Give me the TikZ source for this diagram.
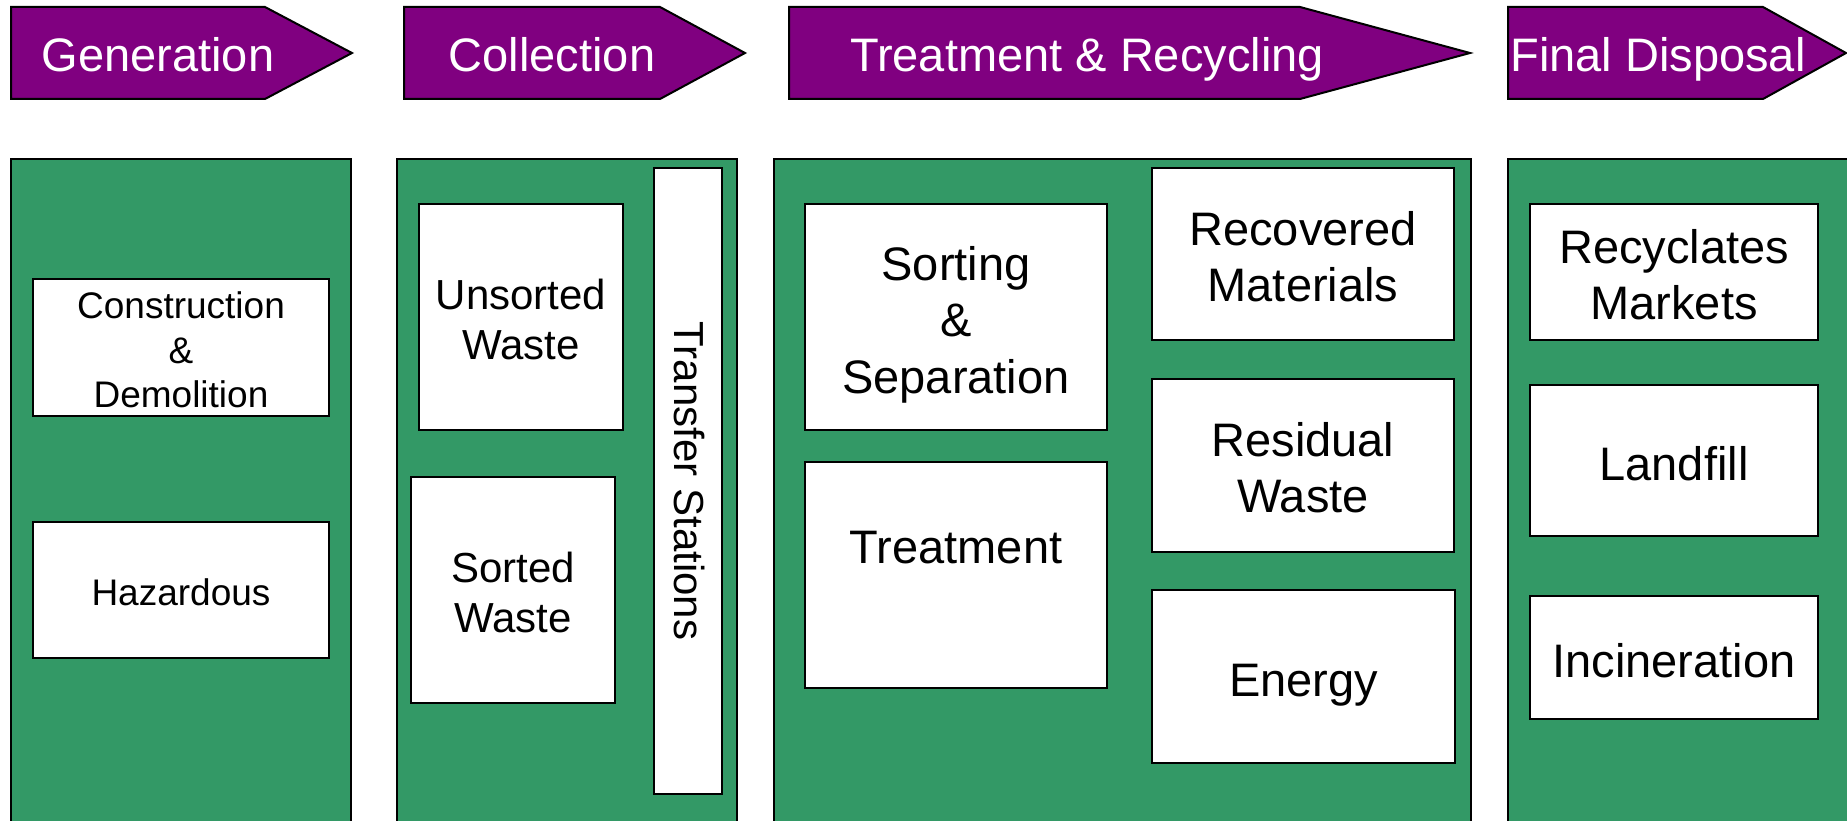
\documentclass[tikz,border=0pt]{standalone}
\usepackage{fontspec}
\setmainfont{Liberation Sans}
\definecolor{hpurple}{RGB}{128,0,128}
\definecolor{pgreen}{RGB}{51,153,102}
\newcommand{\PPa}{\rule{0pt}{1.05em}}
\newcommand{\PPb}{\rule[-0.212em]{0pt}{0pt}}
\tikzset{
  hdr/.style={fill=hpurple,draw=black,line width=2pt,line join=miter},
  hdrtext/.style={text=white,anchor=base,inner sep=0pt,font=\fontsize{47}{56}\selectfont},
  panel/.style={fill=pgreen,draw=black,line width=2pt},
  wbox/.style={draw=black,fill=white,line width=2pt,inner sep=0pt,align=center},
  big/.style={font=\fontsize{47}{56.4}\selectfont},
  mid/.style={font=\fontsize{42}{50.4}\selectfont},
  small/.style={font=\fontsize{37}{44.4}\selectfont},
}
\begin{document}
\begin{tikzpicture}[x=1pt,y=-1pt]
\useasboundingbox (0,0) rectangle (1847,821);
\clip (0,0) rectangle (1847,821);
\fill[white] (0,0) rectangle (1847,821);
% header arrows
\draw[hdr] (11,7) -- (265,7) -- (352,53) -- (265,99) -- (11,99) -- cycle;
\draw[hdr] (404,7) -- (660,7) -- (745,53) -- (660,99) -- (404,99) -- cycle;
\draw[hdr] (789,7) -- (1300,7) -- (1470,53) -- (1300,99) -- (789,99) -- cycle;
\draw[hdr] (1508,7) -- (1763,7) -- (1846,53) -- (1763,99) -- (1508,99) -- cycle;
\node[hdrtext] (hgen) at (158,72) {Generation};
\node[hdrtext] (hcol) at (552,72) {Collection};
\node[hdrtext] (htr) at (1087,72) {Treatment \& Recycling};
\node[hdrtext] (hfin) at (1658,72) {Final Disposal};
% panels
\draw[panel] (11,159) rectangle (351,840);
\draw[panel] (397,159) rectangle (737,840);
\draw[panel] (774,159) rectangle (1471,840);
\draw[panel] (1508,159) rectangle (1870,840);
% generation
\node[wbox,small,minimum width=296pt,minimum height=137pt] (cd) at (181,347.5) {\PPa Construction\\\&\\Demolition\PPb};
\node[wbox,small,minimum width=296pt,minimum height=136pt] (haz) at (181,590) {\PPa Hazardous\PPb};
% collection
\node[wbox,mid,minimum width=204pt,minimum height=226pt] (uns) at (521,317) {\PPa Unsorted\\Waste\PPb};
\node[wbox,mid,minimum width=204pt,minimum height=226pt] (sor) at (513,590) {\PPa Sorted\\Waste\PPb};
\node[wbox,minimum width=68pt,minimum height=626pt] (ts) at (688,481) {};
\node[mid,rotate=-90,inner sep=0pt] (tst) at (690,481) {Transfer Stations};
% treatment
\node[wbox,big,minimum width=302pt,minimum height=226pt] (ss) at (956,317) {\PPa Sorting\\\&\\Separation\PPb};
\node[wbox,minimum width=302pt,minimum height=226pt] (tr) at (956,575) {};
\node[big,inner sep=0pt] (trt) at (956,548) {Treatment};
\node[wbox,big,minimum width=302pt,minimum height=172pt] (rm) at (1303,254) {\PPa Recovered\\Materials\PPb};
\node[wbox,big,minimum width=302pt,minimum height=173pt] (rw) at (1303,465) {\PPa Residual\\Waste\PPb};
\node[wbox,big,minimum width=303pt,minimum height=173pt] (en) at (1303.5,676.5) {\PPa Energy\PPb};
% final disposal
\node[wbox,big,minimum width=288pt,minimum height=136pt] (rmk) at (1674,272) {\PPa Recyclates\\Markets\PPb};
\node[wbox,big,minimum width=288pt,minimum height=151pt] (lf) at (1674,460.5) {\PPa Landfill\PPb};
\node[wbox,big,minimum width=288pt,minimum height=123pt] (inc) at (1674,657.5) {\PPa Incineration\PPb};
\end{tikzpicture}
\end{document}
